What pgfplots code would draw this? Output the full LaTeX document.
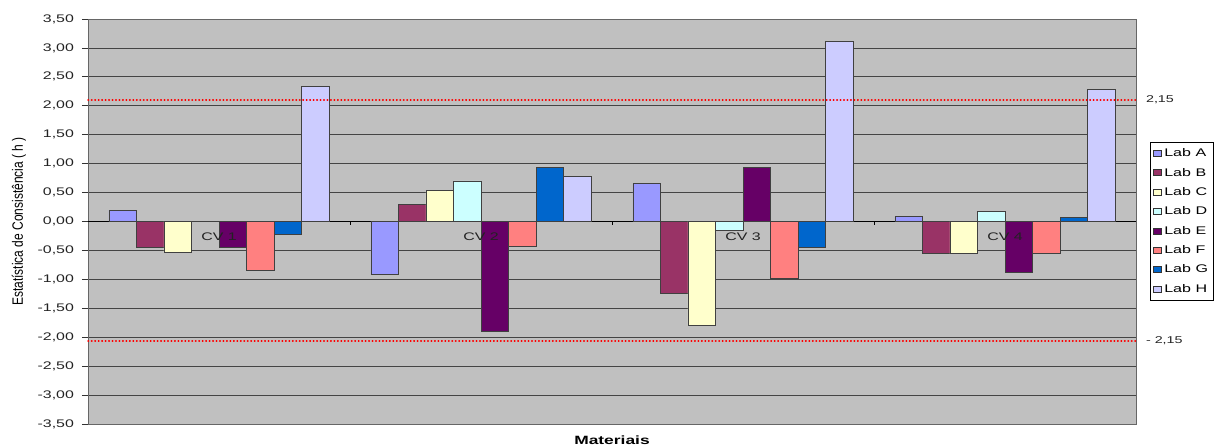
\documentclass[border=0pt]{standalone}
\usepackage{pgfplots}
\pgfplotsset{compat=1.18}
\usepackage{fontspec}
\setmainfont[FakeStretch=1.45]{Liberation Sans}
\newfontfamily\ylabfont[FakeStretch=1.0]{Liberation Sans}
\definecolor{plotgray}{HTML}{C0C0C0}
\definecolor{gridc}{HTML}{444444}
\definecolor{colA}{HTML}{9999FF}
\definecolor{colB}{HTML}{993366}
\definecolor{colC}{HTML}{FFFFCC}
\definecolor{colD}{HTML}{CCFFFF}
\definecolor{colE}{HTML}{660066}
\definecolor{colF}{HTML}{FF8080}
\definecolor{colG}{HTML}{0066CC}
\definecolor{colH}{HTML}{CCCCFF}
\definecolor{txt}{HTML}{222222}
\definecolor{refred}{HTML}{FF0000}
\begin{document}
\begin{tikzpicture}
\begin{axis}[
  name=ax,
  scale only axis, width=786pt, height=303.75pt,
  xmin=-0.5, xmax=3.5, ymin=-3.5, ymax=3.5,
  ybar=0pt, bar width=0.105,
  clip=false,
  xtick=\empty,
  ytick={-3.5,-3,-2.5,-2,-1.5,-1,-0.5,0,0.5,1,1.5,2,2.5,3,3.5},
  ytick pos=left, tick align=outside, major tick length=4.5pt,
  tick style={draw=black!80, line width=0.6pt},
  yticklabel style={font=\fontsize{8.25}{10}\selectfont, text=txt, xshift=-2.5pt,
    /pgf/number format/.cd, fixed, fixed zerofill, precision=2, use comma, assume math mode=true},
  ymajorgrids,
  major grid style={draw=gridc, line width=0.6pt},
  axis background/.style={fill=plotgray},
  axis line style={draw=black!60, line width=0.6pt},
  ylabel={\scalebox{1}[1.25]{\ylabfont\fontsize{9}{10}\selectfont Estatística de Consistência ( h )}},
  ylabel style={at={(axis description cs:-0.066,0.5)}, anchor=center},
  xlabel={\bfseries\fontsize{9}{10}\selectfont Materiais},
  xlabel style={at={(axis description cs:0.5,0)}, anchor=north, yshift=-9pt, inner sep=0pt},
  legend style={at={(1.0134,0.5)}, anchor=west, draw=black, fill=white,
    font=\fontsize{8.3}{9.6}\selectfont, row sep=3.0pt, inner xsep=2pt, inner ysep=2.5pt,
    /tikz/every even column/.append style={column sep=1pt}},
  legend cell align=left,
  legend image code/.code={\draw[#1, draw=black!80, line width=0.5pt] (0pt,-2pt) rectangle (6pt,2.5pt);},
  every axis plot/.append style={draw=black!75, line width=0.6pt},
]
\draw[black, line width=0.7pt] (axis cs:-0.5,0) -- (axis cs:3.5,0);
\addplot[fill=colA] coordinates {(0,0.19) (1,-0.92) (2,0.65) (3,0.08)};
\addplot[fill=colB] coordinates {(0,-0.44) (1,0.29) (2,-1.25) (3,-0.56)};
\addplot[fill=colC] coordinates {(0,-0.54) (1,0.53) (2,-1.80) (3,-0.56)};
\addplot[fill=colD] coordinates {(0,0.00) (1,0.70) (2,-0.16) (3,0.18)};
\addplot[fill=colE] coordinates {(0,-0.44) (1,-1.90) (2,0.94) (3,-0.88)};
\addplot[fill=colF] coordinates {(0,-0.85) (1,-0.43) (2,-0.98) (3,-0.56)};
\addplot[fill=colG] coordinates {(0,-0.23) (1,0.94) (2,-0.45) (3,0.07)};
\addplot[fill=colH] coordinates {(0,2.34) (1,0.78) (2,3.11) (3,2.28)};
\legend{Lab A,Lab B,Lab C,Lab D,Lab E,Lab F,Lab G,Lab H}
\addplot[forget plot, sharp plot, draw=refred, line width=1.1pt, line cap=round, dash pattern=on 0.4pt off 2.2pt] coordinates {(-0.5,2.1) (3.5,2.1)};
\addplot[forget plot, sharp plot, draw=refred, line width=1.1pt, line cap=round, dash pattern=on 0.4pt off 2.2pt] coordinates {(-0.5,-2.0654) (3.5,-2.0654)};
\node[anchor=west, font=\fontsize{7.4}{9}\selectfont, text=txt, xshift=4pt] at (axis cs:3.5,2.1) {2,15};
\node[anchor=west, font=\fontsize{7.4}{9}\selectfont, text=txt, xshift=4pt] at (axis cs:3.5,-2.0654) {- 2,15};
\node[font=\fontsize{8.25}{10}\selectfont, text=txt, yshift=-11.6pt] at (axis cs:0,0) {CV 1};
\node[font=\fontsize{8.25}{10}\selectfont, text=txt, yshift=-11.6pt] at (axis cs:1,0) {CV 2};
\node[font=\fontsize{8.25}{10}\selectfont, text=txt, yshift=-11.6pt] at (axis cs:2,0) {CV 3};
\node[font=\fontsize{8.25}{10}\selectfont, text=txt, yshift=-11.6pt] at (axis cs:3,0) {CV 4};
\draw[black, line width=0.6pt] (axis cs:0.5,0) -- ++(0pt,-2.5pt);
\draw[black, line width=0.6pt] (axis cs:1.5,0) -- ++(0pt,-2.5pt);
\draw[black, line width=0.6pt] (axis cs:2.5,0) -- ++(0pt,-2.5pt);
\end{axis}
\pgfresetboundingbox
\path[use as bounding box] ([shift={(-66pt,-16.5pt)}]ax.south west) rectangle ([shift={(60.75pt,14.25pt)}]ax.north east);
\end{tikzpicture}
\end{document}
